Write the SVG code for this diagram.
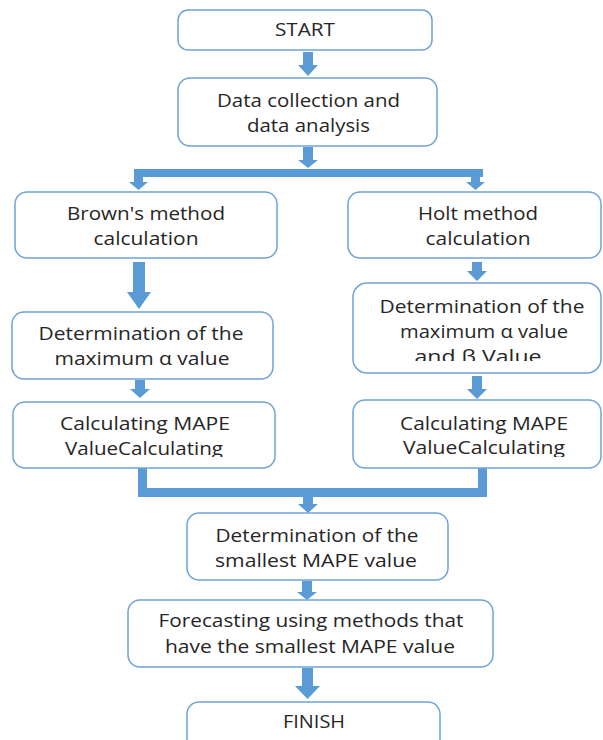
<svg xmlns="http://www.w3.org/2000/svg" width="603" height="740" viewBox="0 0 603 740">
<style>
.box{fill:#fff;stroke:#6fa3d8;stroke-width:1.5}
.t{font-family:"Open Sans","Liberation Sans",sans-serif;font-size:17.5px;fill:#262626;text-anchor:middle}
.arr{fill:#5b9bd5}
</style>
<defs>
<clipPath id="c1"><rect x="353" y="283" width="250" height="78"/></clipPath>
<clipPath id="c2"><rect x="0" y="400" width="603" height="57"/></clipPath>
</defs>
<rect width="603" height="740" fill="#fff"/>
<g id="connectors">
<polygon class="arr" points="303,52 313,52 313,65 318,65 308,76 298,65 303,65"/>
<polygon class="arr" points="303,147 313,147 313,160 318,160 308,168 298,160 303,160"/>
<rect class="arr" x="134" y="169" width="349" height="8"/>
<polygon class="arr" points="134,177 143,177 143,182 148,182 138.5,190 129,182 134,182"/>
<polygon class="arr" points="471,177 480,177 480,182 485,182 475.5,190 466,182 471,182"/>
<polygon class="arr" points="133,262 145,262 145,292 151,292 139,309 127,292 133,292"/>
<polygon class="arr" points="135,380 145,380 145,389 150,389 140,398 130,389 135,389"/>
<polygon class="arr" points="472,262 482,262 482,271 487,271 477,281 467,271 472,271"/>
<polygon class="arr" points="472,376 482,376 482,389 487,389 477,399 467,389 472,389"/>
<path class="arr" d="M138,468 H147 V488 H478 V468 H487 V497 H138 Z"/>
<polygon class="arr" points="303,497 313,497 313,504 318,504 308,513 298,504 303,504"/>
<polygon class="arr" points="302,581 312,581 312,592 317,592 307,600 297,592 302,592"/>
<polygon class="arr" points="302,668 313,668 313,686 320,686 307.5,699 295,686 302,686"/>
</g>
<g id="start"><rect class="box" x="178" y="10" width="254" height="40" rx="10"/><text class="t" x="305" y="36" textLength="60" lengthAdjust="spacingAndGlyphs">START</text></g>
<g id="data"><rect class="box" x="178" y="78" width="259" height="68" rx="12"/><text class="t" x="308.5" y="107" textLength="183" lengthAdjust="spacingAndGlyphs">Data collection and</text><text class="t" x="308.5" y="132" textLength="123" lengthAdjust="spacingAndGlyphs">data analysis</text></g>
<g id="brown"><rect class="box" x="15" y="192" width="262" height="66" rx="12"/><text class="t" x="146" y="220" textLength="158" lengthAdjust="spacingAndGlyphs">Brown's method</text><text class="t" x="146" y="245" textLength="105" lengthAdjust="spacingAndGlyphs">calculation</text></g>
<g id="holt"><rect class="box" x="348" y="192" width="253" height="66" rx="12"/><text class="t" x="478" y="220" textLength="120" lengthAdjust="spacingAndGlyphs">Holt method</text><text class="t" x="478" y="245" textLength="105" lengthAdjust="spacingAndGlyphs">calculation</text></g>
<g id="det-left"><rect class="box" x="12" y="312" width="261" height="67" rx="12"/><text class="t" x="141" y="340" textLength="205" lengthAdjust="spacingAndGlyphs">Determination of the</text><text class="t" x="142" y="365" textLength="175" lengthAdjust="spacingAndGlyphs">maximum α value</text></g>
<g id="det-right"><rect class="box" x="353" y="283" width="248" height="90" rx="14"/><g clip-path="url(#c1)"><text class="t" x="482" y="313" textLength="205" lengthAdjust="spacingAndGlyphs">Determination of the</text><text class="t" x="484" y="338" textLength="168" lengthAdjust="spacingAndGlyphs">maximum α value</text><text class="t" x="478" y="363" textLength="127" lengthAdjust="spacingAndGlyphs">and β Value</text></g></g>
<g id="calc-left"><rect class="box" x="13" y="402" width="262" height="66" rx="12"/><g clip-path="url(#c2)"><text class="t" x="145" y="430" textLength="170" lengthAdjust="spacingAndGlyphs">Calculating MAPE</text><text class="t" x="144" y="455" textLength="158" lengthAdjust="spacingAndGlyphs">ValueCalculating</text></g></g>
<g id="calc-right"><rect class="box" x="353" y="400" width="248" height="68" rx="12"/><g clip-path="url(#c2)"><text class="t" x="484" y="430" textLength="168" lengthAdjust="spacingAndGlyphs">Calculating MAPE</text><text class="t" x="484" y="454" textLength="162" lengthAdjust="spacingAndGlyphs">ValueCalculating</text></g></g>
<g id="smallest"><rect class="box" x="187" y="513" width="261" height="67" rx="12"/><text class="t" x="317" y="542" textLength="203" lengthAdjust="spacingAndGlyphs">Determination of the</text><text class="t" x="316" y="567" textLength="202" lengthAdjust="spacingAndGlyphs">smallest MAPE value</text></g>
<g id="forecast"><rect class="box" x="128" y="600" width="365" height="67" rx="12"/><text class="t" x="311" y="627" textLength="305" lengthAdjust="spacingAndGlyphs">Forecasting using methods that</text><text class="t" x="310" y="653" textLength="290" lengthAdjust="spacingAndGlyphs">have the smallest MAPE value</text></g>
<g id="finish"><rect class="box" x="187" y="702" width="253" height="50" rx="12"/><text class="t" x="314" y="728" textLength="62" lengthAdjust="spacingAndGlyphs">FINISH</text></g>
</svg>
